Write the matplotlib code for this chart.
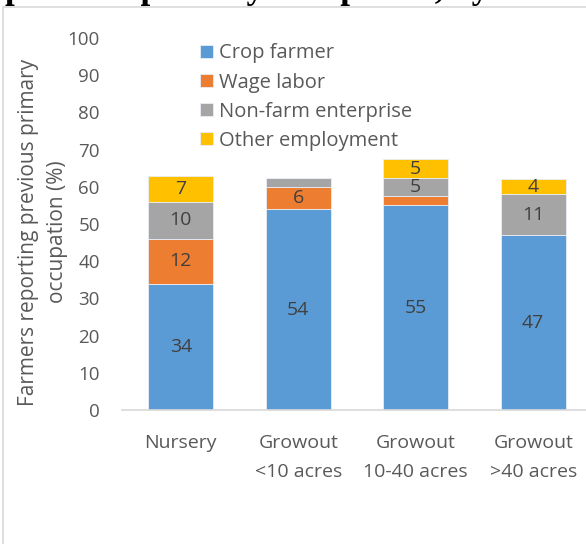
import matplotlib.pyplot as plt
from matplotlib.patches import Rectangle
import numpy as np

plt.rcParams['font.family'] = ['Open Sans', 'DejaVu Sans']

farm_types = ["Nursery", "Growout\n<10 acres", "Growout\n10-40 acres", "Growout\n>40 acres"]
crop_farmer = [34, 54, 55, 47]
wage_labor = [12, 6, 2.4, 0]
non_farm = [10, 2.3, 5, 11]
other_emp = [7, 0, 5, 4]

# labels that were left off the thin segments
crop_lbl = ["34", "54", "55", "47"]
wage_lbl = ["12", "6", "", ""]
nonfarm_lbl = ["10", "", "5", "11"]
other_lbl = ["7", "", "5", "4"]

series = [
    ("Crop farmer", crop_farmer, crop_lbl, "#5B9BD5"),
    ("Wage labor", wage_labor, wage_lbl, "#ED7D31"),
    ("Non-farm enterprise", non_farm, nonfarm_lbl, "#A5A5A5"),
    ("Other employment", other_emp, other_lbl, "#FFC000"),
]

fig = plt.figure(figsize=(5.86, 5.44), dpi=100)
ax = fig.add_axes([122 / 586, 134 / 544, 470 / 586, 372 / 544])

x = np.arange(len(farm_types))
bottom = np.zeros(len(farm_types))
for name, vals, lbls, col in series:
    vals = np.array(vals, dtype=float)
    ax.bar(x, vals, 0.55, bottom=bottom, color=col, label=name,
           edgecolor="#E8EEF6", linewidth=0.6)
    for xi, b, v, t in zip(x, bottom, vals, lbls):
        if t:
            ax.text(xi, b + v / 2, t, ha="center", va="center",
                    fontsize=14, color="#404040")
    bottom += vals

ax.set_xlim(-0.5, 3.5)
ax.set_ylim(0, 100)
ax.set_yticks(range(0, 101, 10))
ax.set_xticks(x)
ax.set_xticklabels(farm_types, fontsize=14, color="#595959", linespacing=1.8)
ax.tick_params(axis="y", length=0, pad=16, labelsize=13.5, labelcolor="#595959")
ax.tick_params(axis="x", length=0, pad=17)

for s in ["top", "right", "left"]:
    ax.spines[s].set_visible(False)
ax.spines["bottom"].set_color("#D9D9D9")
ax.spines["bottom"].set_linewidth(1.2)

ax.set_ylabel("Farmers reporting previous primary\noccupation (%)",
              fontsize=15, color="#595959", linespacing=1.5)
ax.yaxis.set_label_coords(-0.115, 0.478)

ax.legend(loc="upper left", bbox_to_anchor=(0.128, 1.034), frameon=False,
          fontsize=14.5, handlelength=0.65, handleheight=0.65, handletextpad=0.3,
          labelspacing=0.45, labelcolor="#595959")

# chart frame and caption line above it
fig.patches.append(Rectangle((3 / 586, -0.1), 1.2, 1.1 - 7 / 544,
                             transform=fig.transFigure, fill=False,
                             edgecolor="#D9D9D9", linewidth=1.2))
fig.text(5 / 586, 1.0 - 6 / 544, "previous primary occupation, by farm type",
         family="Liberation Serif", weight="bold", fontsize=25, va="bottom")

fig.savefig("out.png", dpi=100)
